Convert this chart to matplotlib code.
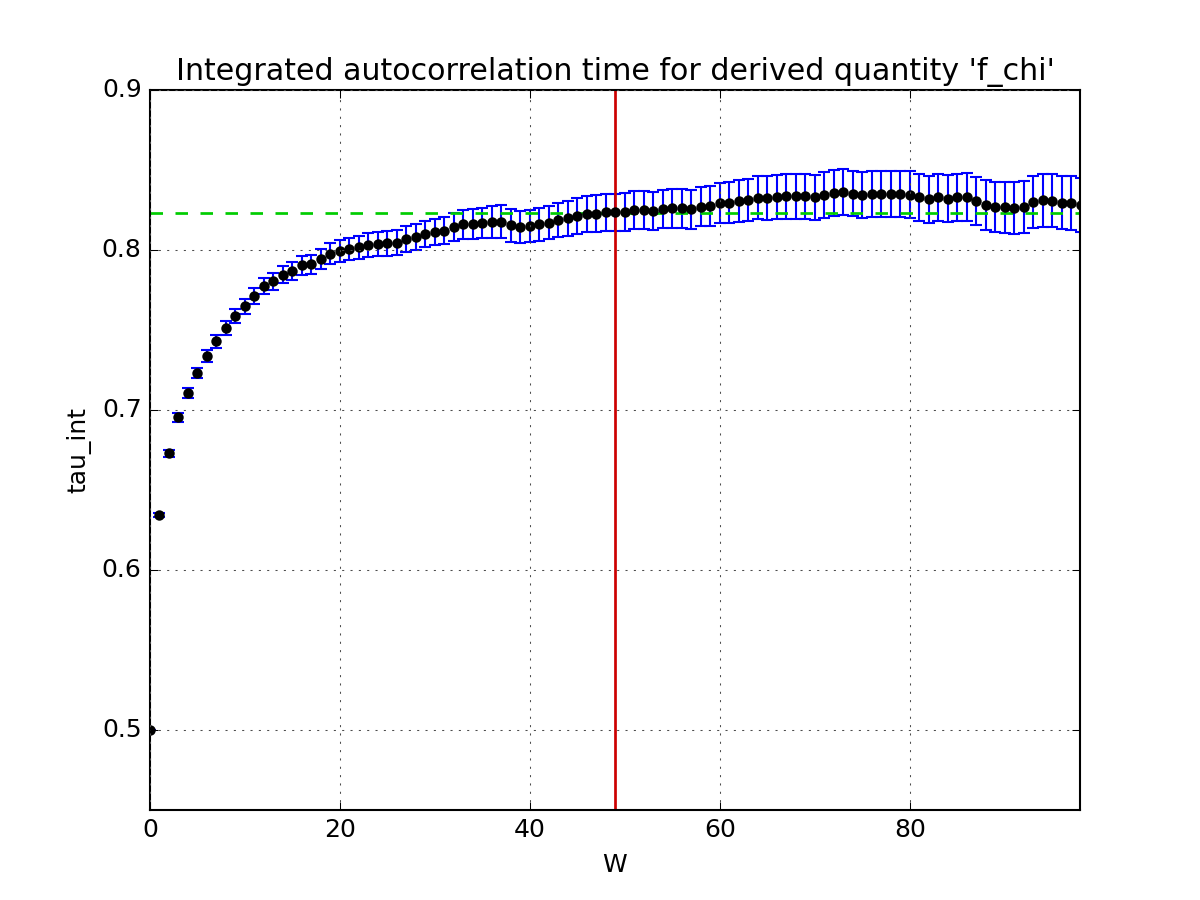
import matplotlib
matplotlib.use("Agg")
import matplotlib.pyplot as plt

plt.style.use("classic")

W = list(range(0, 99))
tau_int = [
    0.5000, 0.6344, 0.6729, 0.6954, 0.7108, 0.7231, 0.7340, 0.7429, 0.7512, 0.7587,
    0.7648, 0.7711, 0.7773, 0.7806, 0.7846, 0.7869, 0.7904, 0.7910, 0.7944, 0.7977,
    0.7995, 0.8009, 0.8017, 0.8031, 0.8038, 0.8042, 0.8044, 0.8069, 0.8079, 0.8098,
    0.8113, 0.8121, 0.8144, 0.8160, 0.8163, 0.8167, 0.8175, 0.8177, 0.8154, 0.8146,
    0.8152, 0.8160, 0.8171, 0.8185, 0.8198, 0.8213, 0.8225, 0.8227, 0.8235, 0.8235,
    0.8237, 0.8250, 0.8252, 0.8246, 0.8256, 0.8260, 0.8260, 0.8256, 0.8271, 0.8273,
    0.8294, 0.8296, 0.8304, 0.8313, 0.8327, 0.8327, 0.8331, 0.8335, 0.8337, 0.8337,
    0.8329, 0.8344, 0.8357, 0.8362, 0.8353, 0.8344, 0.8348, 0.8352, 0.8348, 0.8348,
    0.8346, 0.8329, 0.8317, 0.8331, 0.8321, 0.8329, 0.8331, 0.8306, 0.8281, 0.8269,
    0.8267, 0.8263, 0.8271, 0.8298, 0.8310, 0.8308, 0.8296, 0.8294, 0.8281,
]
tau_err = [
    0.0000, 0.0012, 0.0020, 0.0026, 0.0030, 0.0034, 0.0037, 0.0040, 0.0043, 0.0045,
    0.0047, 0.0049, 0.0051, 0.0053, 0.0055, 0.0057, 0.0059, 0.0061, 0.0063, 0.0065,
    0.0067, 0.0069, 0.0071, 0.0073, 0.0075, 0.0077, 0.0078, 0.0079, 0.0081, 0.0082,
    0.0083, 0.0085, 0.0087, 0.0089, 0.0092, 0.0095, 0.0098, 0.0103, 0.0101, 0.0100,
    0.0100, 0.0102, 0.0104, 0.0106, 0.0108, 0.0110, 0.0112, 0.0114, 0.0115, 0.0116,
    0.0117, 0.0118, 0.0119, 0.0119, 0.0120, 0.0121, 0.0122, 0.0122, 0.0124, 0.0126,
    0.0127, 0.0129, 0.0131, 0.0133, 0.0135, 0.0137, 0.0139, 0.0140, 0.0141, 0.0141,
    0.0140, 0.0142, 0.0144, 0.0143, 0.0142, 0.0142, 0.0143, 0.0144, 0.0144, 0.0144,
    0.0145, 0.0146, 0.0146, 0.0147, 0.0147, 0.0148, 0.0149, 0.0152, 0.0156, 0.0158,
    0.0160, 0.0161, 0.0162, 0.0163, 0.0165, 0.0166, 0.0166, 0.0167, 0.0168,
]
tau_estimate = 0.823
W_opt = 49

fig = plt.figure(figsize=(8, 6), dpi=150, facecolor="white")
ax = fig.add_subplot(111)
ax.errorbar(W, tau_int, yerr=tau_err, fmt="o", color="k", ecolor="b",
            markersize=4, capsize=3, elinewidth=1.0, markeredgewidth=1)
ax.axvline(W_opt, color="#cc0000", linewidth=1.3)
ax.axhline(tau_estimate, color="#00cc00", linestyle="--", linewidth=1.3)
ax.set_xlim(0, 97.9)
ax.set_ylim(0.45, 0.9)
ax.set_xticks([0, 20, 40, 60, 80])
ax.set_yticks([0.5, 0.6, 0.7, 0.8, 0.9])
ax.grid(True, color="0.3")
ax.set_xlabel("W")
ax.set_ylabel("tau_int")
ax.set_title("Integrated autocorrelation time for derived quantity 'f_chi'")
fig.savefig("out.png", dpi=150, facecolor="white")
